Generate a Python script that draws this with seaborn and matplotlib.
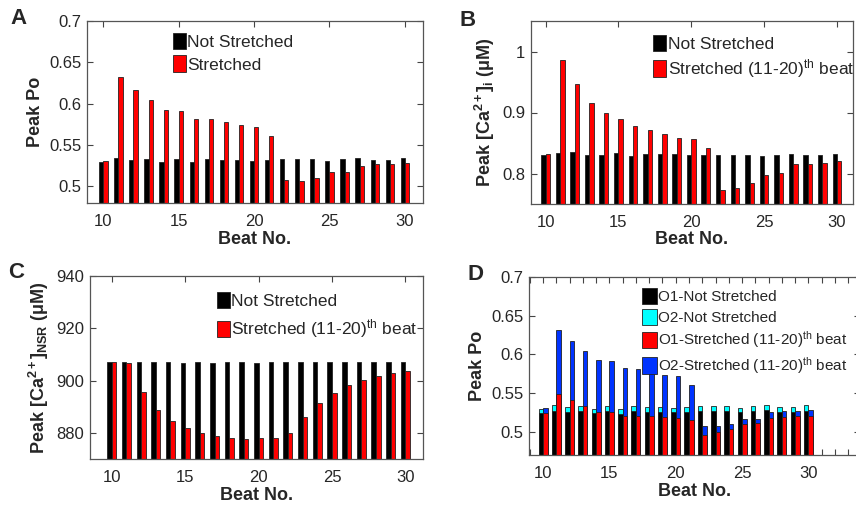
import numpy as np
import pandas as pd
import matplotlib
matplotlib.use('Agg')
import matplotlib.pyplot as plt
import seaborn as sns
from matplotlib.patches import Patch
from matplotlib.ticker import FuncFormatter, MultipleLocator

# ---- data ----
beats = list(range(10, 31))

# A: peak open probability
A_not = [0.530, 0.534, 0.532, 0.533, 0.530, 0.533, 0.529, 0.533, 0.532, 0.532, 0.531,
         0.532, 0.533, 0.533, 0.533, 0.531, 0.533, 0.534, 0.532, 0.532, 0.534]
A_str = [0.531, 0.632, 0.617, 0.604, 0.593, 0.591, 0.582, 0.581, 0.578, 0.574, 0.572,
         0.561, 0.508, 0.507, 0.510, 0.517, 0.517, 0.525, 0.527, 0.527, 0.528]

# B: peak [Ca2+]i (uM)
B_not = [0.831, 0.834, 0.836, 0.830, 0.830, 0.834, 0.828, 0.832, 0.832, 0.832, 0.830,
         0.830, 0.831, 0.831, 0.831, 0.829, 0.831, 0.832, 0.830, 0.830, 0.832]
B_str = [0.832, 0.986, 0.947, 0.916, 0.899, 0.889, 0.878, 0.872, 0.865, 0.859, 0.857,
         0.841, 0.773, 0.776, 0.784, 0.798, 0.801, 0.815, 0.816, 0.818, 0.820]

# C: peak [Ca2+]NSR (uM)
C_not = [907.1, 907.0, 907.1, 907.1, 907.0, 906.9, 907.0, 906.9, 907.0, 907.0, 906.9,
         907.0, 907.0, 907.0, 907.0, 907.1, 907.0, 907.1, 907.0, 907.0, 907.1]
C_str = [907.0, 906.7, 895.5, 888.6, 884.5, 881.8, 879.9, 878.9, 878.1, 877.7, 878.0,
         878.2, 879.8, 886.1, 891.4, 895.4, 898.3, 900.4, 901.9, 902.8, 903.6]

# D: O1 part of peak Po; O1+O2 tops are the same as panel A
D_o1_not = [0.524, 0.527, 0.525, 0.527, 0.524, 0.527, 0.523, 0.527, 0.526, 0.526, 0.526,
            0.526, 0.527, 0.527, 0.527, 0.525, 0.527, 0.528, 0.526, 0.526, 0.527]
D_o1_str = [0.524, 0.549, 0.541, 0.533, 0.526, 0.526, 0.520, 0.521, 0.520, 0.519, 0.518,
            0.515, 0.496, 0.500, 0.504, 0.510, 0.511, 0.518, 0.519, 0.520, 0.521]
D_tot_not = A_not
D_tot_str = A_str

RED = '#ff0000'
BLUE = '#0033ff'
CYAN = '#00ffff'

sns.set_style('ticks')
plt.rcParams['font.family'] = ['Liberation Sans', 'DejaVu Sans']
plt.rcParams['mathtext.fontset'] = 'custom'
plt.rcParams['mathtext.rm'] = 'Liberation Sans'
plt.rcParams['mathtext.bf'] = 'Liberation Sans:bold'
plt.rcParams['mathtext.it'] = 'Liberation Sans:italic'
plt.rcParams['mathtext.default'] = 'regular'


def long_df(not_vals, str_vals):
    return pd.DataFrame({
        'beat': beats * 2,
        'val': list(not_vals) + list(str_vals),
        'cond': ['Not'] * len(beats) + ['Str'] * len(beats),
    })


def bars(ax, not_vals, str_vals, c_not, c_str, width):
    sns.barplot(data=long_df(not_vals, str_vals), x='beat', y='val', hue='cond',
                hue_order=['Not', 'Str'], palette={'Not': c_not, 'Str': c_str},
                native_scale=True, width=width, errorbar=None, legend=False,
                edgecolor='#222222', linewidth=0.6, saturation=1, ax=ax)


def style(ax, xlim, ylim, yticks, every_beat=False):
    ax.set_xlim(*xlim)
    ax.set_ylim(*ylim)
    ax.set_yticks(yticks)
    ax.yaxis.set_major_formatter(FuncFormatter(lambda v, p: '{:g}'.format(round(v, 3))))
    if every_beat:
        ax.xaxis.set_major_locator(MultipleLocator(1))
        ax.xaxis.set_major_formatter(FuncFormatter(lambda v, p: '%d' % v if int(round(v)) % 5 == 0 else ''))
    else:
        ax.set_xticks([10, 15, 20, 25, 30])
    ax.tick_params(direction='in', top=True, right=True, length=4, width=0.8,
                   labelsize=12, color='#444444')
    ax.tick_params(axis='x', pad=8)
    ax.tick_params(axis='y', pad=4)
    for s in ax.spines.values():
        s.set_color('#555555')
        s.set_linewidth(0.9)
    ax.set_xlabel('Beat No.', fontsize=13, fontweight='bold', labelpad=1)


def legend(ax, items, anchor, spacing=0.3, size=12.5, hl=0.75, hh=1.1):
    handles = [Patch(facecolor=c, edgecolor='#222222', linewidth=0.6) for c, _ in items]
    ax.legend(handles, [l for _, l in items], loc='upper left', bbox_to_anchor=anchor,
              frameon=False, fontsize=size, handlelength=hl, handleheight=hh,
              handletextpad=0.1, labelspacing=spacing, borderpad=0, borderaxespad=0)


fig = plt.figure(figsize=(8.56, 5.08), dpi=100)
W, H = 856.0, 508.0


def add_ax(l, t, r, b):
    return fig.add_axes([l / W, 1 - b / H, (r - l) / W, (b - t) / H])


axA = add_ax(87, 21, 423, 203)
axB = add_ax(531, 21, 853, 204)
axC = add_ax(90, 276, 423, 459)
axD = add_ax(529, 277, 860, 455)

# A
bars(axA, A_not, A_str, 'black', RED, 0.56)
style(axA, (8.92, 31.2), (0.48, 0.7), [0.5, 0.55, 0.6, 0.65, 0.7])
axA.set_ylabel('Peak Po', fontsize=13, fontweight='bold')
legend(axA, [('black', 'Not Stretched'), (RED, 'Stretched')], (0.255, 0.935))

# B
th = 'Stretched (11-20)$^{th}$ beat'
bars(axB, B_not, B_str, 'black', RED, 0.6)
style(axB, (9.0, 31.1), (0.75, 1.05), [0.8, 0.9, 1.0])
axB.set_ylabel('Peak [Ca$^{2+}$]$_i$ (μM)', fontsize=13, fontweight='bold')
legend(axB, [('black', 'Not Stretched'), (RED, th)], (0.38, 0.925))

# C
bars(axC, C_not, C_str, 'black', RED, 0.62)
style(axC, (8.52, 31.2), (870, 940), [880, 900, 920, 940])
axC.set_ylabel('Peak [Ca$^{2+}$]$_{NSR}$ (μM)', fontsize=13, fontweight='bold')
legend(axC, [('black', 'Not Stretched'), (RED, th)], (0.38, 0.915), spacing=0.5)

# D: stacked O1 / O2 bars
bars(axD, D_tot_not, D_tot_str, CYAN, BLUE, 0.68)
bars(axD, D_o1_not, D_o1_str, 'black', RED, 0.68)
style(axD, (8.93, 33.9), (0.47, 0.7), [0.5, 0.55, 0.6, 0.65, 0.7], every_beat=True)
axD.set_ylabel('Peak Po', fontsize=13, fontweight='bold')
legend(axD, [('black', 'O1-Not Stretched'), (CYAN, 'O2-Not Stretched'),
             (RED, 'O1-' + th), (BLUE, 'O2-' + th)], (0.34, 0.94),
       spacing=0.28, size=11, hl=1.0, hh=1.3)

# panel letters
for lab, x, y in [('A', 10, 8), ('B', 459, 10), ('C', 8, 262), ('D', 467, 264)]:
    fig.text(x / W, 1 - y / H, lab, fontsize=16, fontweight='bold', va='top', ha='left')

fig.savefig('out.png', dpi=100)
